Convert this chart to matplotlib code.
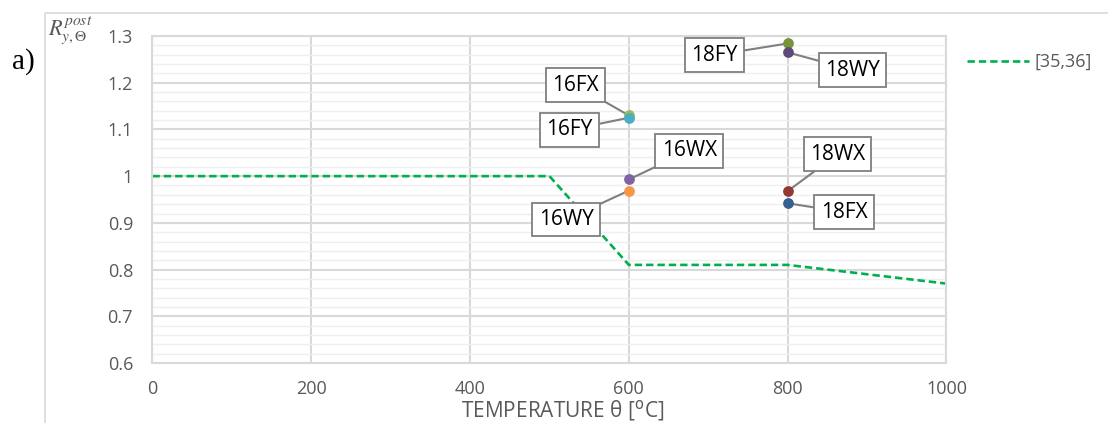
import matplotlib.pyplot as plt
from matplotlib.patches import Rectangle
from matplotlib.ticker import MultipleLocator

# reduction factor curve from the code [35,36]
curve_temp = [0, 500, 600, 800, 1000]
curve_factor = [1.0, 1.0, 0.81, 0.81, 0.77]

# measured post-fire factors
specimens = ["16FX", "16FY", "16WX", "16WY", "18FY", "18WY", "18WX", "18FX"]
spec_temp = [600, 600, 600, 600, 800, 800, 800, 800]
spec_factor = [1.13, 1.125, 0.993, 0.969, 1.284, 1.265, 0.968, 0.942]
spec_colors = ["#9bbb59", "#4bacc6", "#8064a2", "#f79646",
               "#77933c", "#5f497a", "#953735", "#376092"]

# where each label box sits (data coords)
label_pos = [(533, 1.195), (525, 1.099), (676, 1.054), (521, 0.907),
             (708, 1.259), (882, 1.227), (863, 1.047), (871, 0.923)]

GRID = "#d9d9d9"
MINOR = "#efefef"
TEXT = "#595959"

fig = plt.figure(figsize=(11.08, 4.23), dpi=100)
ax = fig.add_axes([0.1376, 0.1418, 0.7166, 0.7731])

# outer chart border
fig.patches.append(Rectangle((45 / 1108, -0.2), 1.2, 0.2 + (1 - 13 / 423),
                             transform=fig.transFigure, fill=False,
                             edgecolor=GRID, linewidth=1.2))

ax.set_xlim(0, 1000)
ax.set_ylim(0.6, 1.3)
ax.xaxis.set_major_locator(MultipleLocator(200))
ax.yaxis.set_minor_locator(MultipleLocator(0.02))
ax.set_yticks([0.6, 0.7, 0.8, 0.9, 1.0, 1.1, 1.2, 1.3])
ax.set_yticklabels(["0.6", "0.7", "0.8", "0.9", "1", "1.1", "1.2", "1.3"])

ax.grid(which="major", color=GRID, linewidth=1.5, zorder=0)
ax.grid(which="minor", axis="y", color=MINOR, linewidth=1.0, zorder=0)
ax.set_axisbelow(True)
for sp in ax.spines.values():
    sp.set_color(GRID)
    sp.set_linewidth(1.5)

ax.tick_params(which="both", length=0)
ax.tick_params(axis="y", pad=14, labelcolor=TEXT)
ax.tick_params(axis="x", pad=12, labelcolor=TEXT)
for lab in ax.get_xticklabels() + ax.get_yticklabels():
    lab.set_family("Open Sans")
    lab.set_fontsize(13)

ax.plot(curve_temp, curve_factor, color="#00b050", linewidth=1.9,
        dashes=(2.8, 1.5), label="[35,36]", zorder=2)

for name, t, f, c, (lx, ly) in zip(specimens, spec_temp, spec_factor,
                                   spec_colors, label_pos):
    ax.annotate(name, xy=(t, f), xytext=(lx, ly), textcoords="data",
                ha="center", va="center", fontsize=15, family="Open Sans",
                color="black",
                bbox=dict(boxstyle="square,pad=0.3", facecolor="white",
                          edgecolor="#7f7f7f", linewidth=1.3),
                arrowprops=dict(arrowstyle="-", color="#7f7f7f",
                                linewidth=1.5, shrinkA=0, shrinkB=0),
                zorder=4)
    ax.scatter([t], [f], s=60, color=c, zorder=5, linewidths=0)

fig.text(563 / 1108, 1 - 411 / 423, "TEMPERATURE θ [$^{\\mathrm{o}}$C]",
         ha="center", va="center", fontsize=15, color=TEXT,
         family="Open Sans")

fig.text(48 / 1108, 1 - 30 / 423, r"$R_{y,\Theta}^{post}$",
         ha="left", va="center", fontsize=16, color=TEXT,
         math_fontfamily="stix")

fig.text(12 / 1108, 1 - 62 / 423, "a)", ha="left", va="center",
         fontsize=21, family="Liberation Serif", color="black")

leg = ax.legend(loc="center left", bbox_to_anchor=(960 / 1108, 1 - 62 / 423),
                bbox_transform=fig.transFigure, frameon=False,
                handlelength=3.4, handletextpad=0.3, borderaxespad=0,
                prop={"family": "Open Sans", "size": 13})
for txt in leg.get_texts():
    txt.set_color(TEXT)

fig.savefig("out.png", dpi=100)
